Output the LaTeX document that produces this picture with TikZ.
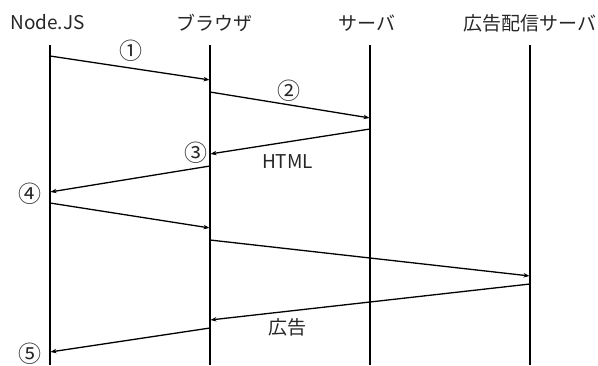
\documentclass[tikz,border=0pt]{standalone}
\usepackage{fontspec}
\setmainfont{Noto Sans CJK JP}
\usetikzlibrary{arrows.meta}
\begin{document}
\begin{tikzpicture}[x=1pt,y=-1pt,
  life/.style={line width=1.4pt},
  msg/.style={line width=1.3pt,-{Stealth[length=6pt,width=4.5pt]},shorten >=0.5pt},
  lbl/.style={font=\fontsize{19}{22}\selectfont,inner sep=0pt,text=black!85},
  num/.style={font=\fontsize{23}{26}\selectfont,inner sep=0pt,text=black!85}]
\useasboundingbox (0,0) rectangle (598,365);
% headers
\node[lbl,anchor=base] (hA) at (47.5,29) {Node.JS};
\node[lbl,anchor=base] (hB) at (214,30) {ブラウザ};
\node[lbl,anchor=base] (hC) at (367,30) {サーバ};
\node[lbl,anchor=base] (hD) at (530,30) {広告配信サーバ};
% lifelines
\coordinate (A0) at (50,45); \coordinate (A1) at (50,365);
\coordinate (B0) at (210,45); \coordinate (B1) at (210,365);
\coordinate (C0) at (370,45); \coordinate (C1) at (370,365);
\coordinate (D0) at (530,45); \coordinate (D1) at (530,365);
\draw[life] (A0) -- (A1);
\draw[life] (B0) -- (B1);
\draw[life] (C0) -- (C1);
\draw[life] (D0) -- (D1);
% message endpoints
\coordinate (m1s) at (50,56);  \coordinate (m1e) at (210,80);
\coordinate (m2s) at (210,92); \coordinate (m2e) at (370,118);
\coordinate (m3s) at (370,129); \coordinate (m3e) at (210,154);
\coordinate (m4s) at (210,166); \coordinate (m4e) at (50,192);
\coordinate (m5s) at (50,203); \coordinate (m5e) at (210,228);
\coordinate (m6s) at (210,240); \coordinate (m6e) at (530,276);
\coordinate (m7s) at (530,284); \coordinate (m7e) at (210,320);
\coordinate (m8s) at (210,328); \coordinate (m8e) at (50,352);
\draw[msg] (m1s) -- (m1e);
\draw[msg] (m2s) -- (m2e);
\draw[msg] (m3s) -- (m3e);
\draw[msg] (m4s) -- (m4e);
\draw[msg] (m5s) -- (m5e);
\draw[msg] (m6s) -- (m6e);
\draw[msg] (m7s) -- (m7e);
\draw[msg] (m8s) -- (m8e);
% labels
\node[num] (n1) at (131,51) {①};
\node[num] (n2) at (289,91) {②};
\node[num] (n3) at (196,153) {③};
\node[lbl,anchor=base] (html) at (287.5,168) {HTML};
\node[num] (n4) at (30,193.5) {④};
\node[lbl,anchor=base] (ad) at (287,334) {広告};
\node[num] (n5) at (30,354) {⑤};
\end{tikzpicture}
\end{document}
